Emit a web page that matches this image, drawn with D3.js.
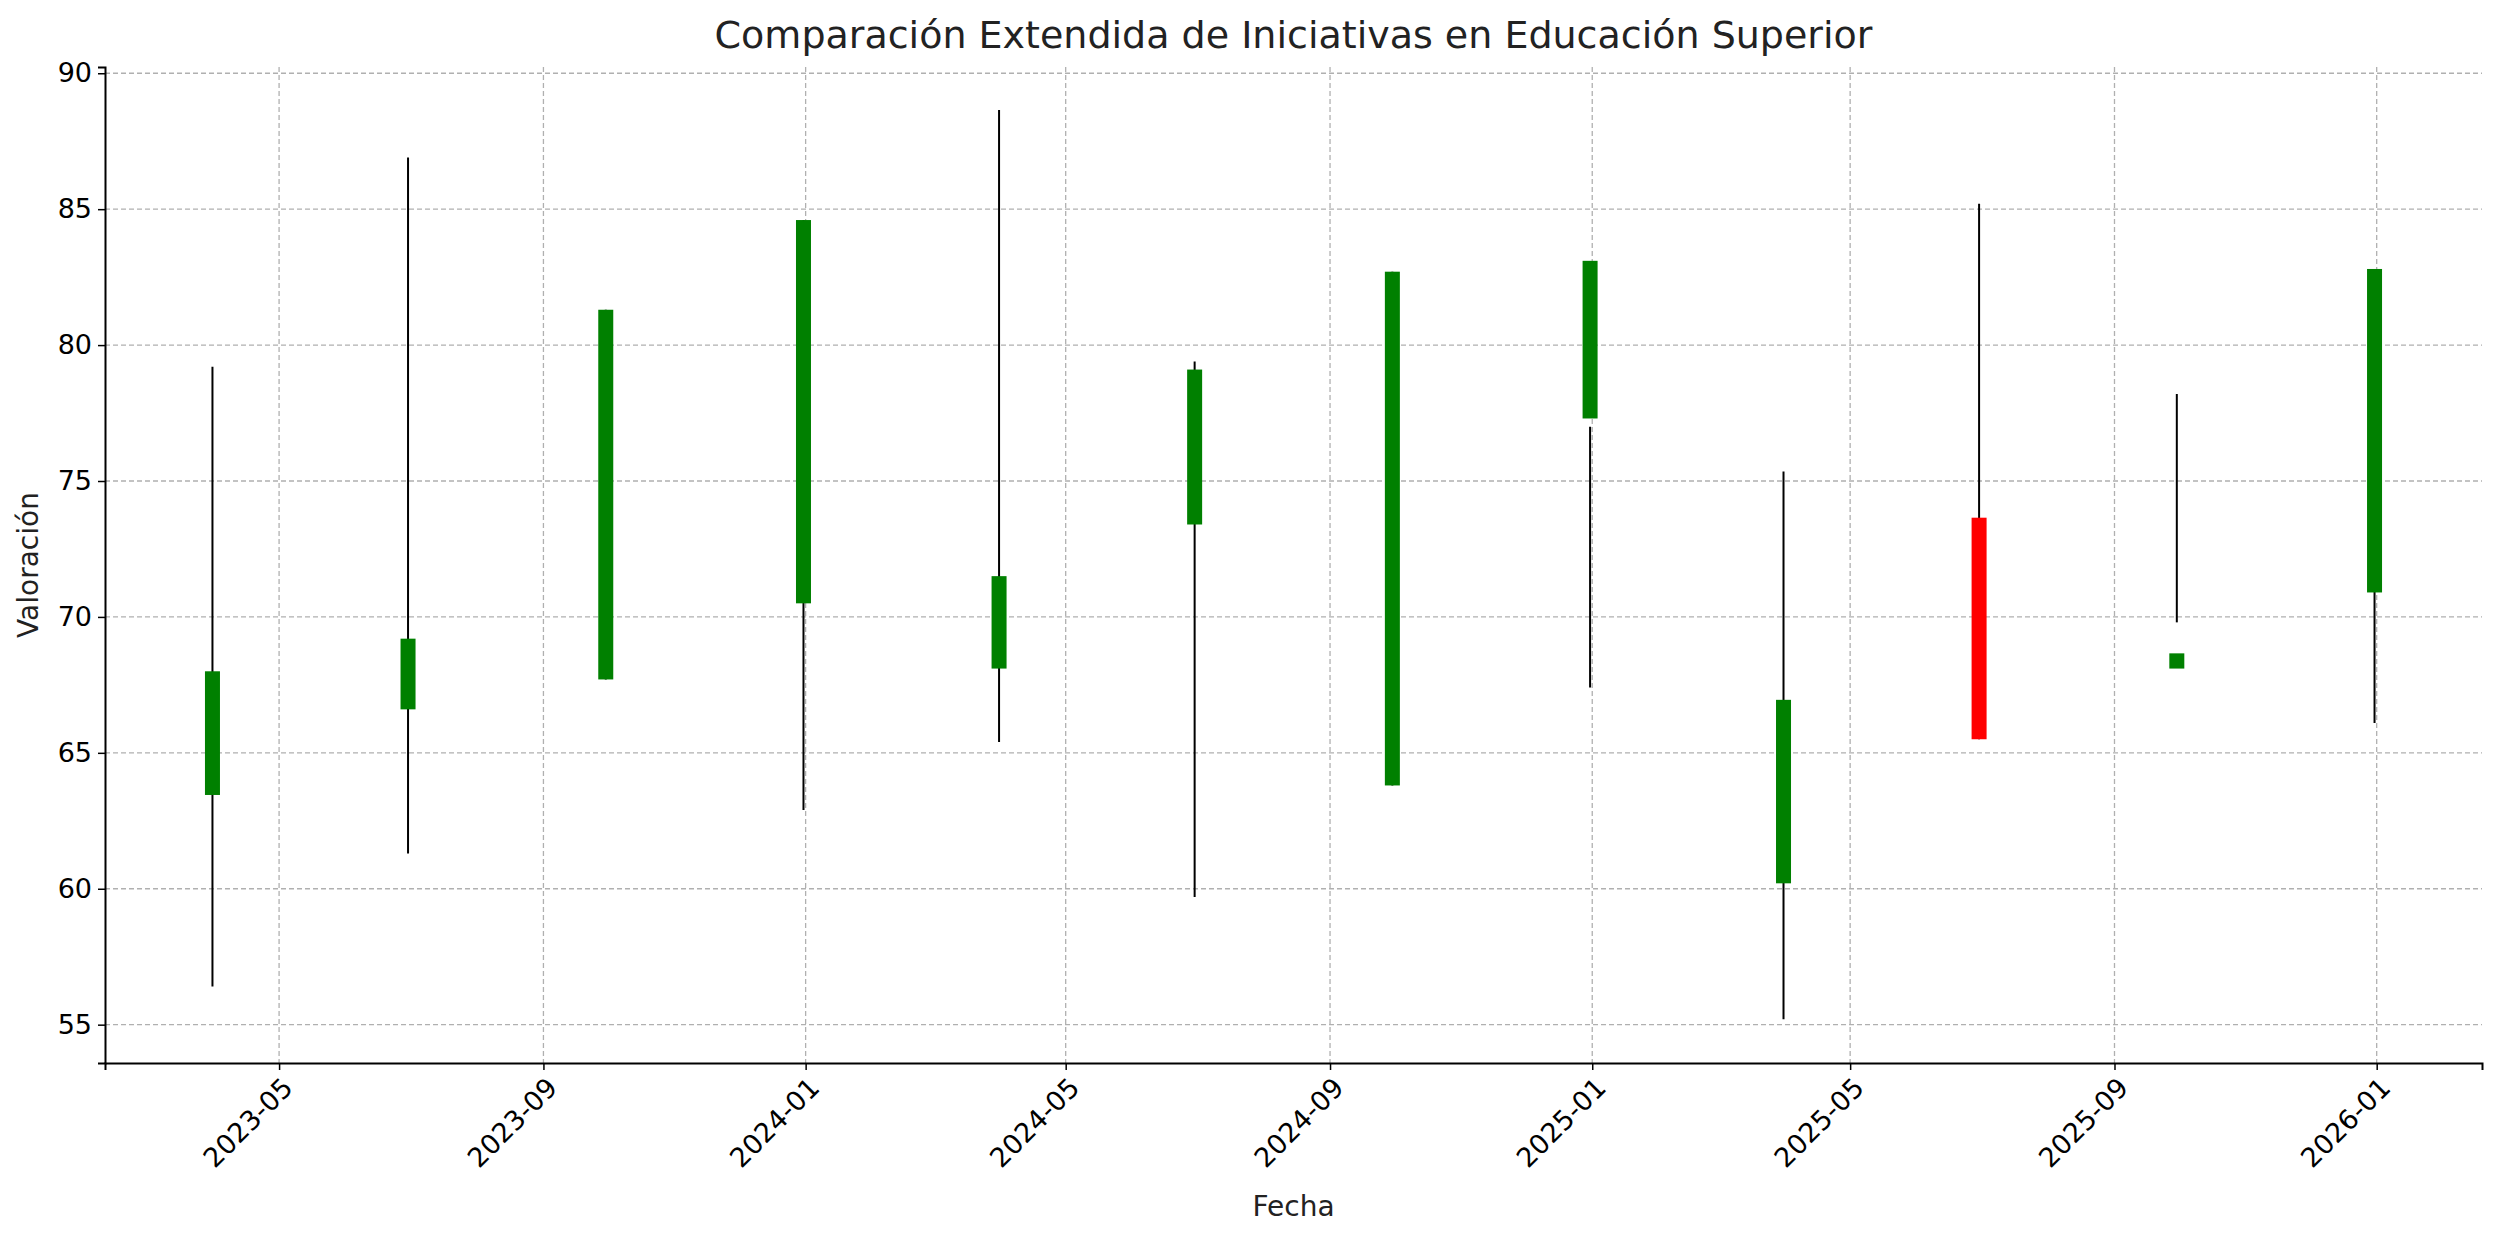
<!DOCTYPE html>
<html><head><meta charset="utf-8">
<script src="https://cdn.jsdelivr.net/npm/d3@7"></script>
<style>body{margin:0;background:#fff}svg{display:block;font-family:"DejaVu Sans",sans-serif}</style>
</head><body>
<svg id="c" width="2500" height="1241"></svg>
<script>
const dates = ["2023-03-31","2023-06-30","2023-09-30","2023-12-31","2024-03-31","2024-06-30","2024-09-30","2024-12-31","2025-03-31","2025-06-30","2025-09-30","2025-12-31"];
const openV  = [63.45, 66.6, 67.7, 70.5, 68.1, 73.4, 63.8, 77.3, 60.2, 73.65, 68.1, 70.9];
const closeV = [68.0, 69.2, 81.3, 84.6, 71.5, 79.1, 82.7, 83.1, 66.95, 65.5, 68.66, 82.8];
const highV  = [79.2, 86.9, 81.3, 84.6, 88.65, 79.4, 82.7, 77.0, 75.35, 85.2, 78.2, 82.8];
const lowV   = [56.4, 61.3, 67.7, 62.9, 65.4, 59.7, 63.8, 67.4, 55.2, 65.5, 69.8, 66.1];
const yTicks = [55,60,65,70,75,80,85,90];
const xTicks = ["2023-05-01","2023-09-01","2024-01-01","2024-05-01","2024-09-01","2025-01-01","2025-05-01","2025-09-01","2026-01-01"];

const svg = d3.select("#c");
const L=105,R=2482,T=67,B=1063;
const p = d3.utcParse("%Y-%m-%d");
const x = d3.scaleUtc().domain([p("2023-02-09"),p("2026-02-19")]).range([L,R]);
const y = d3.scaleLinear().domain([53.59,90.23]).range([B,T]);

// grid
const g = svg.append("g");
g.selectAll(".gx").data(xTicks).join("line").attr("x1",d=>x(p(d))).attr("x2",d=>x(p(d))).attr("y1",T).attr("y2",B)
 .attr("stroke","#b0b0b0").attr("stroke-width",1.3).attr("stroke-dasharray","5,3");
g.selectAll(".gy").data(yTicks).join("line").attr("y1",d=>y(d)).attr("y2",d=>y(d)).attr("x1",L).attr("x2",R)
 .attr("stroke","#b0b0b0").attr("stroke-width",1.3).attr("stroke-dasharray","5,3");

// candles
const data = dates.map((d,i)=>({d:p(d),o:openV[i],c:closeV[i],h:highV[i],l:lowV[i]}));
svg.selectAll(".wick").data(data).join("line").attr("x1",d=>x(d.d)).attr("x2",d=>x(d.d))
 .attr("y1",d=>y(d.h)).attr("y2",d=>y(d.l)).attr("stroke","#000").attr("stroke-width",2);
const bw=15;
svg.selectAll(".body").data(data).join("rect").attr("x",d=>x(d.d)-bw/2).attr("width",bw)
 .attr("y",d=>y(Math.max(d.o,d.c))).attr("height",d=>Math.abs(y(d.o)-y(d.c)))
 .attr("fill",d=>d.c>=d.o?"#008000":"#ff0000");

// axes
const xa = svg.append("g").attr("transform",`translate(0,${B})`)
 .call(d3.axisBottom(x).tickValues(xTicks.map(p)).tickFormat(d3.utcFormat("%Y-%m")).tickSize(7).tickPadding(6));
xa.selectAll("text").attr("font-size",27).attr("fill","#000").attr("text-anchor","end")
 .attr("transform","rotate(-45)").attr("dx","-0.3em").attr("dy","0.6em");
const ya = svg.append("g").attr("transform",`translate(${L},0)`)
 .call(d3.axisLeft(y).tickValues(yTicks).tickSize(7).tickPadding(6));
ya.selectAll("text").attr("font-size",27).attr("fill","#000");
[xa,ya].forEach(a=>{a.select(".domain").attr("stroke","#000").attr("stroke-width",2);a.selectAll(".tick line").attr("stroke","#000").attr("stroke-width",1.5);a.attr("font-family","DejaVu Sans");});

svg.append("text").attr("x",(L+R)/2).attr("y",48).attr("text-anchor","middle").attr("font-size",38).attr("fill","#222")
 .text("Comparación Extendida de Iniciativas en Educación Superior");
svg.append("text").attr("x",(L+R)/2).attr("y",1216).attr("text-anchor","middle").attr("font-size",28).attr("fill","#222").text("Fecha");
svg.append("text").attr("transform",`translate(38,${(T+B)/2}) rotate(-90)`).attr("text-anchor","middle").attr("font-size",28).attr("fill","#222").text("Valoración");
</script>
</body></html>
